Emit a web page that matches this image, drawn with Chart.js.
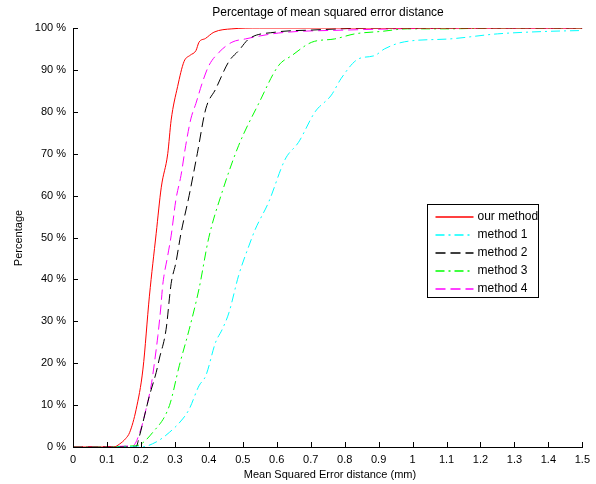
<!DOCTYPE html>
<html>
<head>
<meta charset="utf-8">
<script src="https://cdn.jsdelivr.net/npm/chart.js@4"></script>
<style>
  html, body { margin: 0; padding: 0; background: #fff; }
  #wrap { width: 596px; height: 484px; }
</style>
</head>
<body>
<div id="wrap"><canvas id="chart" width="596" height="484"></canvas></div>
<script>
const seriesNames = ['our method', 'method 1', 'method 2', 'method 3', 'method 4'];
const seriesColors = ['#ff0000', '#00ffff', '#000000', '#00ff00', '#ff00ff'];
const seriesDash = [[], [9, 4, 2, 4], [10, 5], [9, 4, 2, 4], [10, 5]];

const ourX = [0, 0.12, 0.137, 0.155, 0.167, 0.186, 0.206, 0.225, 0.245, 0.26, 0.279, 0.289, 0.308, 0.327, 0.345, 0.362, 0.371, 0.39, 0.415, 0.468, 0.55, 1.5];
const ourY = [0, 0, 0.7, 2, 3.5, 9, 18.6, 36, 51, 62, 70, 78, 86, 92, 93.5, 94.6, 96.6, 97.5, 99, 99.8, 100, 100];

const m1X = [0, 0.2, 0.245, 0.284, 0.323, 0.342, 0.371, 0.391, 0.42, 0.439, 0.459, 0.488, 0.518, 0.537, 0.576, 0.625, 0.664, 0.713, 0.761, 0.79, 0.84, 0.888, 0.917, 0.976, 1.11, 1.25, 1.4, 1.5];
const m1Y = [0, 0, 1.2, 3.5, 6.7, 9, 14.6, 17, 25, 28, 32, 41, 48, 52, 58.4, 68.7, 72.7, 80, 84, 88, 92.6, 93.4, 95, 96.7, 97.4, 98.6, 99.2, 99.4];

const m2X = [0, 0.185, 0.196, 0.206, 0.225, 0.245, 0.254, 0.274, 0.289, 0.303, 0.318, 0.342, 0.366, 0.391, 0.42, 0.459, 0.488, 0.518, 0.596, 0.7, 0.9, 1.5];
const m2Y = [0, 0, 2.7, 5.9, 12.2, 17.8, 21, 28, 39, 44, 51, 60, 70, 80.7, 85.4, 92, 94.6, 97.4, 99, 99.5, 100, 100];

const m3X = [0, 0.186, 0.235, 0.284, 0.313, 0.342, 0.371, 0.4, 0.439, 0.488, 0.547, 0.605, 0.644, 0.703, 0.771, 0.83, 0.91, 0.985, 1.1, 1.25, 1.5];
const m3Y = [0, 0.3, 3.5, 9.9, 19.4, 28, 37.7, 50, 60.8, 72, 82, 91, 93.4, 96.6, 97.4, 98.6, 99.2, 99.8, 99.8, 100, 100];

const m4X = [0, 0.176, 0.2, 0.215, 0.23, 0.24, 0.25, 0.259, 0.264, 0.279, 0.289, 0.303, 0.318, 0.332, 0.347, 0.362, 0.381, 0.4, 0.43, 0.468, 0.508, 0.605, 0.8, 1.2, 1.5];
const m4Y = [0, 0.3, 4.3, 9, 14.6, 20.2, 26.6, 33.7, 38.5, 45.7, 50.4, 59, 64.8, 72, 78.3, 82, 87, 91, 94.2, 96.6, 97.4, 98.8, 99.5, 100, 100];

const xTicks = [0, 0.1, 0.2, 0.3, 0.4, 0.5, 0.6, 0.7, 0.8, 0.9, 1, 1.1, 1.2, 1.3, 1.4, 1.5];
const yTicks = [0, 10, 20, 30, 40, 50, 60, 70, 80, 90, 100];

const FONT = "'Liberation Sans', Arial, sans-serif";

function pts(xs, ys) {
  return xs.map((x, i) => ({ x: x, y: ys[i] }));
}

function ds(i, xs, ys) {
  return {
    label: seriesNames[i],
    data: pts(xs, ys),
    borderColor: seriesColors[i],
    backgroundColor: seriesColors[i],
    borderWidth: 1,
    borderDash: seriesDash[i],
    pointRadius: 0,
    cubicInterpolationMode: 'monotone',
    fill: false,
  };
}

// tick marks pointing inwards + titles
const innerTicks = {
  id: 'innerTicks',
  afterDraw(chart) {
    const ctx = chart.ctx;
    const xs = chart.scales.x, ys = chart.scales.y;
    ctx.save();
    ctx.strokeStyle = '#000';
    ctx.lineWidth = 1;
    ctx.beginPath();
    xTicks.forEach(v => {
      const px = Math.round(xs.getPixelForValue(v)) + 0.5;
      ctx.moveTo(px, ys.bottom);
      ctx.lineTo(px, ys.bottom - 5);
    });
    yTicks.forEach(v => {
      const py = Math.round(ys.getPixelForValue(v)) + 0.5;
      ctx.moveTo(xs.left, py);
      ctx.lineTo(xs.left + 5, py);
    });
    ctx.stroke();

    ctx.fillStyle = '#000';
    ctx.font = '12px ' + FONT;
    ctx.textAlign = 'center';
    ctx.textBaseline = 'middle';
    ctx.fillText('Percentage of mean squared error distance', 328, 13);
    ctx.font = '11px ' + FONT;
    ctx.fillText('Mean Squared Error distance (mm)', 330, 475);
    ctx.translate(19, 238);
    ctx.rotate(-Math.PI / 2);
    ctx.fillText('Percentage', 0, 0);
    ctx.restore();
  }
};

// boxed legend inside the plot area
const boxLegend = {
  id: 'boxLegend',
  afterDraw(chart) {
    const ctx = chart.ctx;
    const bx = 427.5, by = 204.5, bw = 111, bh = 93;
    ctx.save();
    ctx.fillStyle = '#fff';
    ctx.fillRect(bx, by, bw, bh);
    ctx.strokeStyle = '#000';
    ctx.lineWidth = 1;
    ctx.strokeRect(bx, by, bw, bh);
    ctx.font = '12px ' + FONT;
    ctx.textBaseline = 'middle';
    ctx.textAlign = 'left';
    seriesNames.forEach((name, i) => {
      const y = Math.round(by + 12 + i * 18);
      ctx.setLineDash(seriesDash[i]);
      ctx.lineWidth = 1.3;
      ctx.beginPath();
      ctx.moveTo(bx + 8, y);
      ctx.lineTo(bx + 46, y);
      ctx.strokeStyle = seriesColors[i];
      ctx.stroke();
      ctx.setLineDash([]);
      ctx.fillStyle = '#000';
      ctx.fillText(name, bx + 50, y);
    });
    ctx.restore();
  }
};

new Chart(document.getElementById('chart').getContext('2d'), {
  type: 'line',
  data: {
    datasets: [
      ds(0, ourX, ourY),
      ds(1, m1X, m1Y),
      ds(2, m2X, m2Y),
      ds(3, m3X, m3Y),
      ds(4, m4X, m4Y),
    ]
  },
  options: {
    responsive: false,
    animation: false,
    layout: { padding: { top: 28, right: 10, left: 0, bottom: 0 } },
    plugins: { legend: { display: false }, tooltip: { enabled: false } },
    scales: {
      x: {
        type: 'linear',
        min: 0, max: 1.5,
        afterFit: s => { s.height = 37; },
        afterBuildTicks: s => { s.ticks = xTicks.map(v => ({ value: v })); },
        grid: { display: false, drawTicks: false },
        border: { display: true, color: '#000', width: 1 },
        ticks: {
          padding: 6,
          color: '#000',
          font: { family: FONT, size: 11 },
          maxRotation: 0,
          autoSkip: false,
          callback: v => String(Math.round(v * 10) / 10)
        }
      },
      y: {
        min: 0, max: 100,
        afterFit: s => { s.width = 73; },
        afterBuildTicks: s => { s.ticks = yTicks.map(v => ({ value: v })); },
        grid: { display: false, drawTicks: false },
        border: { display: true, color: '#000', width: 1 },
        ticks: {
          padding: 7,
          color: '#000',
          font: { family: FONT, size: 11 },
          autoSkip: false,
          callback: v => v + ' %'
        }
      }
    }
  },
  plugins: [innerTicks, boxLegend]
});
</script>
</body>
</html>
